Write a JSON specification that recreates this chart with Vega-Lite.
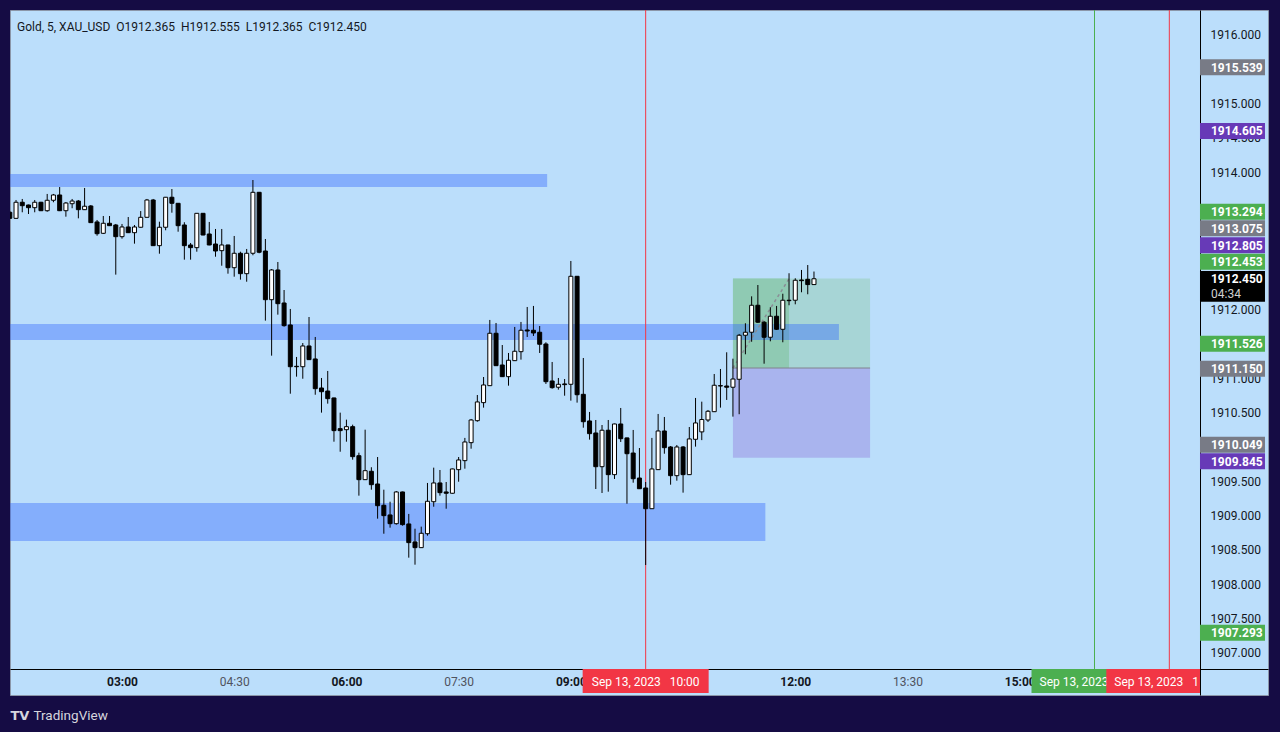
{
"$schema":"https://vega.github.io/schema/vega-lite/v6.json",
"width":1258,"height":685,
"autosize":{"type":"none"},
"padding":{"left":10,"top":10,"right":12,"bottom":37},
"background":"#150c44",
"config":{"view":{"fill":"#bbdefb","stroke":"#8b96a8","strokeWidth":1},"font":"Roboto"},
"title":{"text":"Gold, 5, XAU_USD\u00a0\u00a0O1912.365\u00a0\u00a0H1912.555\u00a0\u00a0L1912.365\u00a0\u00a0C1912.450","anchor":"start","frame":"group","orient":"top","offset":-24,"dx":7,"font":"Roboto","fontSize":12,"fontWeight":"normal","color":"#131722"},
"resolve":{"axis":{"x":"independent","y":"independent"}},
"datasets":{
"candles":[
{"t":"2023-09-13T01:30","o":1913.418,"h":1913.437,"l":1913.320,"c":1913.330},
{"t":"2023-09-13T01:35","o":1913.330,"h":1913.597,"l":1913.325,"c":1913.564},
{"t":"2023-09-13T01:40","o":1913.564,"h":1913.612,"l":1913.418,"c":1913.514},
{"t":"2023-09-13T01:45","o":1913.524,"h":1913.530,"l":1913.393,"c":1913.485},
{"t":"2023-09-13T01:50","o":1913.485,"h":1913.597,"l":1913.418,"c":1913.564},
{"t":"2023-09-13T01:55","o":1913.564,"h":1913.570,"l":1913.436,"c":1913.441},
{"t":"2023-09-13T02:00","o":1913.441,"h":1913.685,"l":1913.426,"c":1913.593},
{"t":"2023-09-13T02:05","o":1913.593,"h":1913.685,"l":1913.564,"c":1913.670},
{"t":"2023-09-13T02:10","o":1913.670,"h":1913.786,"l":1913.436,"c":1913.441},
{"t":"2023-09-13T02:15","o":1913.441,"h":1913.568,"l":1913.354,"c":1913.553},
{"t":"2023-09-13T02:20","o":1913.543,"h":1913.612,"l":1913.477,"c":1913.582},
{"t":"2023-09-13T02:25","o":1913.582,"h":1913.597,"l":1913.330,"c":1913.456},
{"t":"2023-09-13T02:30","o":1913.456,"h":1913.772,"l":1913.452,"c":1913.506},
{"t":"2023-09-13T02:35","o":1913.510,"h":1913.524,"l":1913.262,"c":1913.267},
{"t":"2023-09-13T02:40","o":1913.277,"h":1913.306,"l":1913.077,"c":1913.106},
{"t":"2023-09-13T02:45","o":1913.112,"h":1913.364,"l":1913.102,"c":1913.258},
{"t":"2023-09-13T02:50","o":1913.258,"h":1913.364,"l":1913.218,"c":1913.223},
{"t":"2023-09-13T02:55","o":1913.233,"h":1913.248,"l":1912.510,"c":1913.063},
{"t":"2023-09-13T03:00","o":1913.063,"h":1913.248,"l":1913.034,"c":1913.204},
{"t":"2023-09-13T03:05","o":1913.204,"h":1913.349,"l":1913.116,"c":1913.121},
{"t":"2023-09-13T03:10","o":1913.121,"h":1913.233,"l":1912.961,"c":1913.204},
{"t":"2023-09-13T03:15","o":1913.200,"h":1913.436,"l":1913.195,"c":1913.345},
{"t":"2023-09-13T03:20","o":1913.345,"h":1913.612,"l":1913.340,"c":1913.597},
{"t":"2023-09-13T03:25","o":1913.597,"h":1913.612,"l":1912.927,"c":1912.932},
{"t":"2023-09-13T03:30","o":1912.932,"h":1913.281,"l":1912.815,"c":1913.200},
{"t":"2023-09-13T03:35","o":1913.200,"h":1913.641,"l":1913.156,"c":1913.637},
{"t":"2023-09-13T03:40","o":1913.637,"h":1913.757,"l":1913.412,"c":1913.549},
{"t":"2023-09-13T03:45","o":1913.549,"h":1913.553,"l":1913.135,"c":1913.223},
{"t":"2023-09-13T03:50","o":1913.233,"h":1913.273,"l":1912.728,"c":1912.932},
{"t":"2023-09-13T03:55","o":1912.942,"h":1912.971,"l":1912.728,"c":1912.903},
{"t":"2023-09-13T04:00","o":1912.903,"h":1913.407,"l":1912.844,"c":1913.403},
{"t":"2023-09-13T04:05","o":1913.403,"h":1913.407,"l":1913.083,"c":1913.087},
{"t":"2023-09-13T04:10","o":1913.102,"h":1913.277,"l":1912.938,"c":1912.942},
{"t":"2023-09-13T04:15","o":1912.956,"h":1913.175,"l":1912.771,"c":1912.854},
{"t":"2023-09-13T04:20","o":1912.859,"h":1913.175,"l":1912.640,"c":1912.942},
{"t":"2023-09-13T04:25","o":1912.942,"h":1912.945,"l":1912.524,"c":1912.611},
{"t":"2023-09-13T04:30","o":1912.611,"h":1913.073,"l":1912.480,"c":1912.821},
{"t":"2023-09-13T04:35","o":1912.821,"h":1912.844,"l":1912.437,"c":1912.524},
{"t":"2023-09-13T04:40","o":1912.524,"h":1912.884,"l":1912.407,"c":1912.821},
{"t":"2023-09-13T04:45","o":1912.821,"h":1913.888,"l":1912.792,"c":1913.709},
{"t":"2023-09-13T04:50","o":1913.709,"h":1913.714,"l":1912.821,"c":1912.836},
{"t":"2023-09-13T04:55","o":1912.854,"h":1913.029,"l":1911.840,"c":1912.145},
{"t":"2023-09-13T05:00","o":1912.145,"h":1912.592,"l":1911.330,"c":1912.578},
{"t":"2023-09-13T05:05","o":1912.578,"h":1912.694,"l":1911.927,"c":1912.087},
{"t":"2023-09-13T05:10","o":1912.097,"h":1912.286,"l":1911.752,"c":1911.767},
{"t":"2023-09-13T05:15","o":1911.777,"h":1912.010,"l":1910.776,"c":1911.169},
{"t":"2023-09-13T05:20","o":1911.175,"h":1911.311,"l":1911.024,"c":1911.169},
{"t":"2023-09-13T05:25","o":1911.169,"h":1911.514,"l":1910.994,"c":1911.471},
{"t":"2023-09-13T05:30","o":1911.471,"h":1911.893,"l":1911.267,"c":1911.272},
{"t":"2023-09-13T05:35","o":1911.282,"h":1911.602,"l":1910.761,"c":1910.849},
{"t":"2023-09-13T05:40","o":1910.859,"h":1911.005,"l":1910.500,"c":1910.805},
{"t":"2023-09-13T05:45","o":1910.815,"h":1911.107,"l":1910.631,"c":1910.704},
{"t":"2023-09-13T05:50","o":1910.714,"h":1910.718,"l":1910.077,"c":1910.238},
{"t":"2023-09-13T05:55","o":1910.267,"h":1910.500,"l":1909.931,"c":1910.238},
{"t":"2023-09-13T06:00","o":1910.252,"h":1910.398,"l":1910.077,"c":1910.296},
{"t":"2023-09-13T06:05","o":1910.296,"h":1910.325,"l":1909.815,"c":1909.859},
{"t":"2023-09-13T06:10","o":1909.873,"h":1909.917,"l":1909.291,"c":1909.524},
{"t":"2023-09-13T06:15","o":1909.524,"h":1910.252,"l":1909.519,"c":1909.655},
{"t":"2023-09-13T06:20","o":1909.646,"h":1909.705,"l":1909.378,"c":1909.451},
{"t":"2023-09-13T06:25","o":1909.461,"h":1909.854,"l":1908.956,"c":1909.145},
{"t":"2023-09-13T06:30","o":1909.151,"h":1909.378,"l":1908.737,"c":1909.000},
{"t":"2023-09-13T06:35","o":1909.010,"h":1909.203,"l":1908.825,"c":1908.883},
{"t":"2023-09-13T06:40","o":1908.883,"h":1909.359,"l":1908.869,"c":1909.345},
{"t":"2023-09-13T06:45","o":1909.345,"h":1909.350,"l":1908.854,"c":1908.869},
{"t":"2023-09-13T06:50","o":1908.879,"h":1909.025,"l":1908.388,"c":1908.607},
{"t":"2023-09-13T06:55","o":1908.617,"h":1908.810,"l":1908.286,"c":1908.534},
{"t":"2023-09-13T07:00","o":1908.534,"h":1908.840,"l":1908.530,"c":1908.743},
{"t":"2023-09-13T07:05","o":1908.737,"h":1909.476,"l":1908.708,"c":1909.209},
{"t":"2023-09-13T07:10","o":1909.203,"h":1909.699,"l":1909.130,"c":1909.476},
{"t":"2023-09-13T07:15","o":1909.476,"h":1909.665,"l":1909.291,"c":1909.335},
{"t":"2023-09-13T07:20","o":1909.345,"h":1909.490,"l":1909.101,"c":1909.326},
{"t":"2023-09-13T07:25","o":1909.326,"h":1909.685,"l":1909.320,"c":1909.680},
{"t":"2023-09-13T07:30","o":1909.670,"h":1909.854,"l":1909.494,"c":1909.811},
{"t":"2023-09-13T07:35","o":1909.801,"h":1910.132,"l":1909.684,"c":1910.073},
{"t":"2023-09-13T07:40","o":1910.063,"h":1910.408,"l":1909.975,"c":1910.393},
{"t":"2023-09-13T07:45","o":1910.383,"h":1910.757,"l":1910.368,"c":1910.656},
{"t":"2023-09-13T07:50","o":1910.646,"h":1911.019,"l":1910.573,"c":1910.903},
{"t":"2023-09-13T07:55","o":1910.893,"h":1911.850,"l":1910.888,"c":1911.656},
{"t":"2023-09-13T08:00","o":1911.656,"h":1911.806,"l":1911.179,"c":1911.184},
{"t":"2023-09-13T08:05","o":1911.194,"h":1911.485,"l":1911.019,"c":1911.024},
{"t":"2023-09-13T08:10","o":1911.024,"h":1911.369,"l":1910.893,"c":1911.263},
{"t":"2023-09-13T08:15","o":1911.257,"h":1911.748,"l":1911.252,"c":1911.394},
{"t":"2023-09-13T08:20","o":1911.388,"h":1911.821,"l":1911.272,"c":1911.700},
{"t":"2023-09-13T08:25","o":1911.704,"h":1912.039,"l":1911.602,"c":1911.689},
{"t":"2023-09-13T08:30","o":1911.700,"h":1912.054,"l":1911.617,"c":1911.660},
{"t":"2023-09-13T08:35","o":1911.671,"h":1911.762,"l":1911.369,"c":1911.496},
{"t":"2023-09-13T08:40","o":1911.500,"h":1911.525,"l":1910.918,"c":1910.951},
{"t":"2023-09-13T08:45","o":1910.961,"h":1911.238,"l":1910.849,"c":1910.864},
{"t":"2023-09-13T08:50","o":1910.870,"h":1911.005,"l":1910.835,"c":1910.913},
{"t":"2023-09-13T08:55","o":1910.918,"h":1910.990,"l":1910.747,"c":1910.908},
{"t":"2023-09-13T09:00","o":1910.913,"h":1912.709,"l":1910.675,"c":1912.486},
{"t":"2023-09-13T09:05","o":1912.486,"h":1912.490,"l":1910.646,"c":1910.761},
{"t":"2023-09-13T09:10","o":1910.767,"h":1911.296,"l":1910.281,"c":1910.368},
{"t":"2023-09-13T09:15","o":1910.379,"h":1910.510,"l":1910.107,"c":1910.194},
{"t":"2023-09-13T09:20","o":1910.204,"h":1910.393,"l":1909.388,"c":1909.713},
{"t":"2023-09-13T09:25","o":1909.713,"h":1910.320,"l":1909.330,"c":1910.244},
{"t":"2023-09-13T09:30","o":1910.244,"h":1910.393,"l":1909.349,"c":1909.597},
{"t":"2023-09-13T09:35","o":1909.597,"h":1910.340,"l":1909.534,"c":1910.335},
{"t":"2023-09-13T09:40","o":1910.335,"h":1910.568,"l":1910.073,"c":1910.121},
{"t":"2023-09-13T09:45","o":1910.132,"h":1910.136,"l":1909.174,"c":1909.902},
{"t":"2023-09-13T09:50","o":1909.912,"h":1910.248,"l":1909.480,"c":1909.538},
{"t":"2023-09-13T09:55","o":1909.548,"h":1909.985,"l":1909.388,"c":1909.392},
{"t":"2023-09-13T10:00","o":1909.403,"h":1909.490,"l":1908.281,"c":1909.101},
{"t":"2023-09-13T10:05","o":1909.101,"h":1910.132,"l":1909.097,"c":1909.680},
{"t":"2023-09-13T10:10","o":1909.670,"h":1910.481,"l":1909.665,"c":1910.233},
{"t":"2023-09-13T10:15","o":1910.233,"h":1910.437,"l":1909.902,"c":1909.990},
{"t":"2023-09-13T10:20","o":1910.000,"h":1910.014,"l":1909.451,"c":1909.582},
{"t":"2023-09-13T10:25","o":1909.582,"h":1910.029,"l":1909.509,"c":1910.000},
{"t":"2023-09-13T10:30","o":1910.000,"h":1910.014,"l":1909.335,"c":1909.597},
{"t":"2023-09-13T10:35","o":1909.597,"h":1910.291,"l":1909.592,"c":1910.117},
{"t":"2023-09-13T10:40","o":1910.112,"h":1910.714,"l":1910.005,"c":1910.350},
{"t":"2023-09-13T10:45","o":1910.220,"h":1910.660,"l":1910.100,"c":1910.400},
{"t":"2023-09-13T10:50","o":1910.393,"h":1910.539,"l":1910.364,"c":1910.520},
{"t":"2023-09-13T10:55","o":1910.514,"h":1911.063,"l":1910.510,"c":1910.899},
{"t":"2023-09-13T11:00","o":1910.893,"h":1911.136,"l":1910.573,"c":1910.888},
{"t":"2023-09-13T11:05","o":1910.888,"h":1911.379,"l":1910.685,"c":1910.870},
{"t":"2023-09-13T11:10","o":1910.870,"h":1911.286,"l":1910.442,"c":1910.990},
{"t":"2023-09-13T11:15","o":1910.986,"h":1911.646,"l":1910.477,"c":1911.627},
{"t":"2023-09-13T11:20","o":1911.627,"h":1911.802,"l":1911.350,"c":1911.671},
{"t":"2023-09-13T11:25","o":1911.671,"h":1912.194,"l":1911.533,"c":1912.064},
{"t":"2023-09-13T11:30","o":1912.064,"h":1912.359,"l":1911.806,"c":1911.817},
{"t":"2023-09-13T11:35","o":1911.817,"h":1911.835,"l":1911.213,"c":1911.598},
{"t":"2023-09-13T11:40","o":1911.598,"h":1912.035,"l":1911.539,"c":1911.904},
{"t":"2023-09-13T11:45","o":1911.904,"h":1912.054,"l":1911.704,"c":1911.714},
{"t":"2023-09-13T11:50","o":1911.714,"h":1912.232,"l":1911.525,"c":1912.137},
{"t":"2023-09-13T11:55","o":1912.137,"h":1912.530,"l":1912.064,"c":1912.131},
{"t":"2023-09-13T12:00","o":1912.137,"h":1912.457,"l":1912.078,"c":1912.428},
{"t":"2023-09-13T12:05","o":1912.432,"h":1912.578,"l":1912.253,"c":1912.422},
{"t":"2023-09-13T12:10","o":1912.442,"h":1912.650,"l":1912.224,"c":1912.365},
{"t":"2023-09-13T12:15","o":1912.365,"h":1912.555,"l":1912.365,"c":1912.450}
],
"pos":[
{"a":"2023-09-13T11:10","b":"2023-09-13T13:00","top":1912.453,"bot":1911.15,"k":"profit"},
{"a":"2023-09-13T11:10","b":"2023-09-13T11:55","top":1912.453,"bot":1911.15,"k":"progress"},
{"a":"2023-09-13T11:10","b":"2023-09-13T13:00","top":1911.15,"bot":1909.845,"k":"loss"}
],
"zones":[
{"a":"2023-09-13T00:00","b":"2023-09-13T08:41","top":1913.976,"bot":1913.787},
{"a":"2023-09-13T00:00","b":"2023-09-13T12:35","top":1911.792,"bot":1911.558},
{"a":"2023-09-13T00:00","b":"2023-09-13T11:36","top":1909.184,"bot":1908.631}
],
"dash":[{"t":"2023-09-13T11:10","p":1911.15},{"t":"2023-09-13T11:55","p":1912.45}],
"vlines":[{"t":"2023-09-13T10:00","k":"red"},{"t":"2023-09-13T16:00","k":"green"},{"t":"2023-09-13T17:00","k":"red"}],
"plabels":[
{"v":1915.539,"s":1915.530,"k":"gray"},
{"v":1914.605,"s":1914.602,"k":"purple"},
{"v":1913.294,"s":1913.426,"k":"green"},
{"v":1913.075,"s":1913.185,"k":"gray"},
{"v":1912.805,"s":1912.938,"k":"purple"},
{"v":1912.453,"s":1912.698,"k":"green"},
{"v":1911.526,"s":1911.503,"k":"green"},
{"v":1911.150,"s":1911.140,"k":"gray"},
{"v":1910.049,"s":1910.034,"k":"gray"},
{"v":1909.845,"s":1909.792,"k":"purple"},
{"v":1907.293,"s":1907.296,"k":"green"}
],
"cur":[{"v":1912.450,"cd":"04:34"}],
"tlabels":[
{"t":"2023-09-13T10:00","lab":"Sep 13, 2023\u00a0\u00a0\u00a010:00","k":"red"},
{"t":"2023-09-13T16:00","lab":"Sep 13, 2023\u00a0\u00a0\u00a016:00","k":"green"},
{"t":"2023-09-13T17:00","lab":"Sep 13, 2023\u00a0\u00a0\u00a017:00","k":"red"}
]
},
"layer":[
{"data":{"name":"pos"},"mark":{"type":"rect"},
 "encoding":{
  "x":{"field":"a","type":"temporal",
   "scale":{"domain":[{"year":2023,"month":9,"date":13,"hours":1,"minutes":30,"seconds":10},{"year":2023,"month":9,"date":13,"hours":18,"minutes":19,"seconds":9}],"nice":false,"padding":0},
   "axis":{"orient":"bottom","offset":-26,"format":"%H:%M","grid":false,"ticks":false,"tickSize":0,"domain":true,"domainColor":"#000000","domainWidth":1,"labelPadding":7,"labelFont":"Roboto","labelFontSize":12,"labelFlush":false,"labelOverlap":false,
    "values":[{"year":2023,"month":9,"date":13,"hours":3,"minutes":0},{"year":2023,"month":9,"date":13,"hours":4,"minutes":30},{"year":2023,"month":9,"date":13,"hours":6,"minutes":0},{"year":2023,"month":9,"date":13,"hours":7,"minutes":30},{"year":2023,"month":9,"date":13,"hours":9,"minutes":0},{"year":2023,"month":9,"date":13,"hours":12,"minutes":0},{"year":2023,"month":9,"date":13,"hours":13,"minutes":30},{"year":2023,"month":9,"date":13,"hours":15,"minutes":0}],
    "labelFontWeight":{"condition":{"test":"minutes(datum.value)==0","value":"bold"},"value":"normal"},
    "labelColor":{"condition":{"test":"minutes(datum.value)==0","value":"#131722"},"value":"#50535e"},
    "title":"TradingView","titleX":23,"titleY":50,"titleAlign":"left","titleAnchor":"start","titleBaseline":"alphabetic","titleColor":"#d6d6de","titleFont":"Roboto","titleFontSize":13.5,"titleFontWeight":"normal"}},
  "x2":{"field":"b"},
  "y":{"field":"top","type":"quantitative",
   "scale":{"domain":[1906.388,1916.364],"nice":false,"zero":false,"padding":0},
   "axis":{"orient":"right","offset":-68,"format":".3f","grid":false,"ticks":false,"tickSize":0,"domain":true,"domainColor":"#000000","domainWidth":1,"labelPadding":10,"labelFont":"Roboto","labelFontSize":12,"labelColor":"#131722","labelAlign":"left","labelBaseline":"middle","labelOverlap":false,"labelFlush":false,
    "values":[1907,1907.5,1908,1908.5,1909,1909.5,1910.5,1911,1912,1914,1914.5,1915,1916],
    "title":"TV","titleAngle":0,"titleX":-1190,"titleY":709,"titleAlign":"left","titleBaseline":"alphabetic","titleColor":"#d6d6de","titleFont":"DejaVu Sans","titleFontSize":13,"titleFontWeight":"bold"}},
  "y2":{"field":"bot"},
  "fill":{"condition":[{"test":"datum.k=='loss'","value":"#a9b4ee"},{"test":"datum.k=='progress'","value":"#8fcab3"}],"value":"#a7d5d6"}
 }},
{"data":{"name":"zones"},"mark":{"type":"rect","fill":"#2962ff","opacity":0.38,"clip":true},
 "encoding":{"x":{"field":"a","type":"temporal","axis":null},"x2":{"field":"b"},"y":{"field":"top","type":"quantitative","axis":null},"y2":{"field":"bot"}}},
{"data":{"name":"pos"},"transform":[{"filter":"datum.k=='loss'"}],"mark":{"type":"rule","color":"#80838e","strokeWidth":1},
 "encoding":{"x":{"field":"a","type":"temporal","axis":null},"x2":{"field":"b"},"y":{"field":"top","type":"quantitative","axis":null}}},
{"data":{"name":"dash"},"mark":{"type":"line","color":"#8a8d96","strokeWidth":1.5,"strokeDash":[3,3]},
 "encoding":{"x":{"field":"t","type":"temporal","axis":null},"y":{"field":"p","type":"quantitative","axis":null}}},
{"data":{"name":"vlines"},"mark":{"type":"rule","strokeWidth":1},
 "encoding":{"x":{"field":"t","type":"temporal","axis":null},"y":{"datum":1916.364,"type":"quantitative","axis":null},"y2":{"datum":1906.767},
  "color":{"condition":{"test":"datum.k=='green'","value":"#4caf50"},"value":"#f23645"}}},
{"data":{"name":"candles"},"mark":{"type":"rule","color":"#000000","strokeWidth":1,"clip":true},
 "encoding":{"x":{"field":"t","type":"temporal","axis":null},"y":{"field":"l","type":"quantitative","axis":null},"y2":{"field":"h"}}},
{"data":{"name":"candles"},"mark":{"type":"bar","width":4,"stroke":"#000000","strokeWidth":1,"clip":true},
 "encoding":{"x":{"field":"t","type":"temporal","axis":null},"y":{"field":"o","type":"quantitative","axis":null},"y2":{"field":"c"},
  "fill":{"condition":{"test":"datum.c>=datum.o","value":"#ffffff"},"value":"#000000"}}},
{"data":{"name":"plabels"},"mark":{"type":"point","shape":"M0,-0.2462H2V0.2462H0Z","filled":true,"size":4225,"opacity":1,"strokeWidth":0},
 "encoding":{"x":{"datum":{"year":2023,"month":9,"date":13,"hours":17,"minutes":24,"seconds":36},"type":"temporal","axis":null},"y":{"field":"s","type":"quantitative","axis":null},
  "fill":{"condition":[{"test":"datum.k=='gray'","value":"#787b86"},{"test":"datum.k=='purple'","value":"#673ab7"}],"value":"#4caf50"}}},
{"data":{"name":"plabels"},"mark":{"type":"text","align":"left","baseline":"middle","dx":11,"dy":0.5,"font":"Roboto","fontSize":12,"fontWeight":"bold","fill":"#ffffff"},
 "encoding":{"x":{"datum":{"year":2023,"month":9,"date":13,"hours":17,"minutes":24,"seconds":36},"type":"temporal","axis":null},"y":{"field":"s","type":"quantitative","axis":null},"text":{"field":"v","type":"quantitative","format":".3f"}}},
{"data":{"name":"cur"},"mark":{"type":"point","shape":"M0,-0.24H2V0.711H0Z","filled":true,"size":4225,"opacity":1,"strokeWidth":0,"fill":"#000000"},
 "encoding":{"x":{"datum":{"year":2023,"month":9,"date":13,"hours":17,"minutes":24,"seconds":36},"type":"temporal","axis":null},"y":{"field":"v","type":"quantitative","axis":null}}},
{"data":{"name":"cur"},"mark":{"type":"text","align":"left","baseline":"middle","dx":11,"dy":0.5,"font":"Roboto","fontSize":12,"fontWeight":"bold","fill":"#ffffff"},
 "encoding":{"x":{"datum":{"year":2023,"month":9,"date":13,"hours":17,"minutes":24,"seconds":36},"type":"temporal","axis":null},"y":{"field":"v","type":"quantitative","axis":null},"text":{"field":"v","type":"quantitative","format":".3f"}}},
{"data":{"name":"cur"},"mark":{"type":"text","align":"left","baseline":"middle","dx":11,"dy":15.5,"font":"Roboto","fontSize":12,"fontWeight":"normal","fill":"#d0d0d0"},
 "encoding":{"x":{"datum":{"year":2023,"month":9,"date":13,"hours":17,"minutes":24,"seconds":36},"type":"temporal","axis":null},"y":{"field":"v","type":"quantitative","axis":null},"text":{"field":"cd","type":"nominal"}}},
{"data":{"name":"tlabels"},"transform":[{"filter":"indexof(datum.lab,'17:00')<0"}],"mark":{"type":"point","shape":"M-1,-0.1905H1V0.1905H-1Z","filled":true,"size":15876,"opacity":1,"strokeWidth":0},
 "encoding":{"x":{"field":"t","type":"temporal","axis":null},"y":{"datum":1906.592,"type":"quantitative","axis":null},
  "fill":{"condition":{"test":"datum.k=='green'","value":"#4caf50"},"value":"#f23645"}}},
{"data":{"name":"tlabels"},"transform":[{"filter":"indexof(datum.lab,'10:00')>=0"}],"mark":{"type":"text","align":"center","baseline":"middle","dy":1,"font":"Roboto","fontSize":12,"fill":"#ffffff"},
 "encoding":{"x":{"field":"t","type":"temporal","axis":null},"y":{"datum":1906.592,"type":"quantitative","axis":null},"text":{"field":"lab","type":"nominal"}}},
{"data":{"name":"tlabels"},"transform":[{"filter":"indexof(datum.lab,'16:00')>=0"}],"mark":{"type":"text","align":"left","baseline":"middle","dx":-55,"dy":1,"limit":72,"ellipsis":" ","font":"Roboto","fontSize":12,"fill":"#ffffff"},
 "encoding":{"x":{"field":"t","type":"temporal","axis":null},"y":{"datum":1906.592,"type":"quantitative","axis":null},"text":{"field":"lab","type":"nominal"}}},
{"data":{"name":"tlabels"},"transform":[{"filter":"indexof(datum.lab,'17:00')>=0"}],"mark":{"type":"point","shape":"M-1,-0.1905H0.487V0.1905H-1Z","filled":true,"size":15876,"opacity":1,"strokeWidth":0},
 "encoding":{"x":{"field":"t","type":"temporal","axis":null},"y":{"datum":1906.592,"type":"quantitative","axis":null},
  "fill":{"condition":{"test":"datum.k=='green'","value":"#4caf50"},"value":"#f23645"}}},
{"data":{"name":"tlabels"},"transform":[{"filter":"indexof(datum.lab,'17:00')>=0"}],"mark":{"type":"text","align":"left","baseline":"middle","dx":-55,"dy":1,"limit":89,"ellipsis":" ","font":"Roboto","fontSize":12,"fill":"#ffffff"},
 "encoding":{"x":{"field":"t","type":"temporal","axis":null},"y":{"datum":1906.592,"type":"quantitative","axis":null},"text":{"field":"lab","type":"nominal"}}}
]
}
